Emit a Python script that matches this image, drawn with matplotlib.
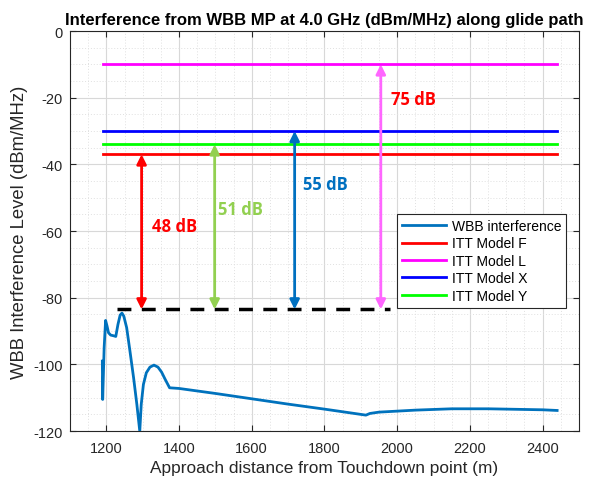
import matplotlib
matplotlib.use("Agg")
import matplotlib.pyplot as plt
from matplotlib.ticker import MultipleLocator

plt.rcParams['font.family'] = ['Liberation Sans', 'DejaVu Sans']
plt.rcParams['axes.unicode_minus'] = False

# WBB interference curve
dist = [1189, 1190, 1194, 1198, 1202, 1206, 1212, 1220, 1226, 1232, 1238, 1243, 1248,
        1256, 1265, 1275, 1284, 1292, 1296, 1302, 1310, 1320, 1331, 1342, 1352, 1362,
        1374, 1400, 1500, 1600, 1700, 1800, 1914, 1925, 1950, 2000, 2050, 2100, 2150,
        2200, 2250, 2300, 2350, 2400, 2440]
level = [-99, -110.5, -95, -86.8, -88.5, -90.5, -91.2, -91.4, -91.6, -88, -85.2, -84.6, -85.5,
         -89, -96, -104, -112, -120, -112, -106, -102.5, -100.8, -100.2, -100.8, -102.3, -104.5,
         -107, -107.2, -108.7, -110.3, -111.9, -113.4, -115.2, -114.7, -114.3, -114.0, -113.7, -113.5, -113.3,
         -113.3, -113.3, -113.4, -113.5, -113.6, -113.8]

# ITT model thresholds
model_names = ['ITT Model F', 'ITT Model L', 'ITT Model X', 'ITT Model Y']
model_levels = [-37, -10, -30, -34]
model_colors = ['#ff0000', '#ff00ff', '#0000ff', '#00ff00']
model_x = [1190, 2440]

# reference dashed line
ref_level = -83.5
ref_x = [1230, 1980]

# margin arrows
arrow_x = [1297, 1498, 1718, 1955]
arrow_top = [-37, -34, -30, -10]
arrow_colors = ['#ff0000', '#92d050', '#0070c0', '#ff66ff']
margin_labels = ['48 dB', '51 dB', '55 dB', '75 dB']
label_x = [1325, 1506, 1740, 1983]
label_y = [-58.5, -53.5, -46, -20.5]
label_colors = ['#ff0000', '#92d050', '#0070c0', '#ff0000']

fig = plt.figure(figsize=(5.95, 4.85), dpi=100)
ax = fig.add_axes([0.1176, 0.109, 0.8554, 0.825])

ax.plot(dist, level, color='#0072bd', lw=2, label='WBB interference', zorder=4)
for n, lv, c in zip(model_names, model_levels, model_colors):
    ax.plot(model_x, [lv, lv], color=c, lw=2, label=n, zorder=3)

ax.plot(ref_x, [ref_level, ref_level], color='black', lw=2.5, ls=(0, (4, 3)), zorder=3)

for x, top, c in zip(arrow_x, arrow_top, arrow_colors):
    ax.annotate('', xy=(x, top), xytext=(x, ref_level),
                arrowprops=dict(arrowstyle='<|-|>', color=c, lw=2,
                                mutation_scale=14, shrinkA=0, shrinkB=0), zorder=5)

for t, x, y, c in zip(margin_labels, label_x, label_y, label_colors):
    ax.text(x, y, t, color=c, fontsize=12, fontweight='bold',
            family=['Open Sans', 'DejaVu Sans'], ha='left', va='center', zorder=6)

ax.set_xlim(1100, 2500)
ax.set_ylim(-120, 0)
ax.xaxis.set_major_locator(MultipleLocator(200))
ax.xaxis.set_minor_locator(MultipleLocator(50))
ax.yaxis.set_major_locator(MultipleLocator(20))
ax.yaxis.set_minor_locator(MultipleLocator(5))
ax.grid(which='major', color='#d8d8d8', lw=0.8)
ax.grid(which='minor', color='#e0e0e0', lw=0.7, ls=(0, (1, 2)))
ax.set_axisbelow(True)
ax.tick_params(which='both', direction='in', top=True, right=True, colors='#262626',
               labelsize=10.5)
ax.tick_params(which='minor', length=0)
ax.tick_params(which='major', length=4)
ax.tick_params(axis='x', pad=7)
ax.tick_params(axis='y', pad=5)
for s in ax.spines.values():
    s.set_color('#262626')
    s.set_linewidth(0.8)

ax.set_xlabel('Approach distance from Touchdown point (m)', fontsize=12.4, color='#262626', labelpad=4)
ax.set_ylabel('WBB Interference Level (dBm/MHz)', fontsize=13.3, color='#262626', labelpad=4)
ax.set_title('Interference from WBB MP at 4.0 GHz (dBm/MHz) along glide path',
             fontsize=12, fontweight='bold', pad=5)

leg = ax.legend(loc='upper left', bbox_to_anchor=(0.642, 0.5425), fontsize=10,
                frameon=True, fancybox=False, framealpha=1, edgecolor='#262626',
                handlelength=3.2, borderpad=0.35, borderaxespad=0, labelspacing=0.25,
                handletextpad=0.4)
leg.get_frame().set_linewidth(0.8)

fig.savefig('out.png', dpi=100)
